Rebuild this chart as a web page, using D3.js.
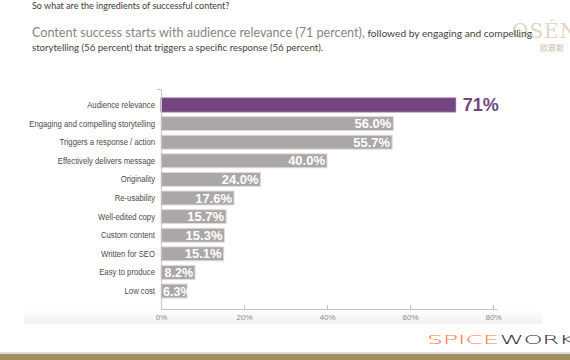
<!DOCTYPE html>
<html>
<head>
<meta charset="utf-8">
<script src="https://cdn.jsdelivr.net/npm/d3@7/dist/d3.min.js"></script>
<style>
  html, body { margin: 0; padding: 0; background: #ffffff; }
  svg { display: block; }
</style>
</head>
<body>
<svg id="chart" width="570" height="360"></svg>
<script>
// ---- data ----
const categories = [
  "Audience relevance",
  "Engaging and compelling storytelling",
  "Triggers a response / action",
  "Effectively delivers message",
  "Originality",
  "Re-usability",
  "Well-edited copy",
  "Custom content",
  "Written for SEO",
  "Easy to produce",
  "Low cost"
];
const values = [71, 56.0, 55.7, 40.0, 24.0, 17.6, 15.7, 15.3, 15.1, 8.2, 6.3];
const valueLabels = ["71%", "56.0%", "55.7%", "40.0%", "24.0%", "17.6%", "15.7%", "15.3%", "15.1%", "8.2%", "6.3%"];
const tickValues = [0, 20, 40, 60, 80];
const kicker = "So what are the ingredients of successful content?";
const headlineBig = "Content success starts with audience relevance (71 percent),";
const headlineSmall1 = " followed by engaging and compelling";
const headlineSmall2 = "storytelling (56 percent) that triggers a specific response (56 percent).";

const svg = d3.select("#chart");

// ---- background pieces ----
const defs = svg.append("defs");
const grad = defs.append("linearGradient").attr("id", "band").attr("x1", 0).attr("x2", 0).attr("y1", 0).attr("y2", 1);
grad.append("stop").attr("offset", "0%").attr("stop-color", "#ffffff");
grad.append("stop").attr("offset", "100%").attr("stop-color", "#f1f1f1");
svg.append("rect").attr("x", 24).attr("y", 310).attr("width", 518).attr("height", 14).attr("fill", "url(#band)");

svg.append("rect").attr("x", 0).attr("y", 352).attr("width", 570).attr("height", 2).attr("fill", "#dcdcdc");
svg.append("rect").attr("x", 0).attr("y", 354).attr("width", 570).attr("height", 6).attr("fill", "#a08e5c");

// ---- header texts ----
svg.append("text").attr("x", 32).attr("y", 9)
  .attr("font-family", "Lato, 'Open Sans', sans-serif").attr("font-size", 9)
  .attr("fill", "#3a3a3a").text(kicker);

// OSEN logo (behind the headline, as in the reference)
svg.append("text").attr("x", 512).attr("y", 38)
  .attr("font-family", "'DejaVu Serif', serif").attr("font-size", 20)
  .attr("fill", "#e2d6c3").attr("letter-spacing", 1).text("OSÉN");
svg.append("text").attr("x", 540).attr("y", 51)
  .attr("font-family", "'Noto Sans CJK SC', sans-serif").attr("font-size", 8)
  .attr("fill", "#cbbba0").text("欧赛斯");

const h1 = svg.append("text").attr("x", 32).attr("y", 37)
  .attr("font-family", "Lato, 'Open Sans', sans-serif").attr("fill", "#858585");
h1.append("tspan").attr("font-size", 12.6).text(headlineBig);
h1.append("tspan").attr("font-size", 10.2).attr("fill", "#3f3f3f").text(headlineSmall1);

svg.append("text").attr("x", 32).attr("y", 51)
  .attr("font-family", "Lato, 'Open Sans', sans-serif").attr("font-size", 9.6)
  .attr("fill", "#3f3f3f").text(headlineSmall2);

// ---- scales ----
const x = d3.scaleLinear().domain([0, 80]).range([161, 493]);
const y = d3.scaleBand().domain(categories).range([98, 298]).paddingInner(0.25).paddingOuter(0);

// ---- bars ----
const bars = svg.append("g");
bars.selectAll("rect").data(values).join("rect")
  .attr("x", x(0))
  .attr("y", (d, i) => y(categories[i]))
  .attr("width", d => x(d) - x(0))
  .attr("height", y.bandwidth())
  .attr("fill", (d, i) => i === 0 ? "#744581" : "#aca7a7")
  .attr("stroke", (d, i) => i === 0 ? "#8a6394" : "#dedcdc")
  .attr("stroke-width", 1);

// value labels
const vl = svg.append("g").attr("font-family", "'Liberation Sans', Arial, sans-serif").attr("font-weight", "bold");
values.forEach((v, i) => {
  const cy = y(categories[i]) + y.bandwidth() / 2;
  if (i === 0) {
    vl.append("text").attr("x", x(v) + 7).attr("y", cy + 6.5)
      .attr("font-size", 18).attr("fill", "#744581").text(valueLabels[i]);
  } else {
    const small = v < 10;
    const t = vl.append("text").attr("y", cy + 4.6)
      .attr("font-size", small ? 12.5 : 13).attr("fill", "#ffffff")
      .attr("text-anchor", "end").text(valueLabels[i]);
    const w = t.node().getComputedTextLength();
    const xe = Math.max(x(v) - 2, x(0) + 2 + w);
    t.attr("x", xe);
  }
});

// ---- axes ----
const xAxis = d3.axisBottom(x).tickValues(tickValues).tickFormat(d => d + "%")
  .tickSize(-4).tickSizeOuter(0).tickPadding(5);
const gx = svg.append("g").attr("transform", "translate(0,309)").call(xAxis);
gx.select(".domain").remove();
gx.selectAll(".tick line").attr("stroke", "#c4c4c4").filter(d => d === 0).remove();
gx.selectAll(".tick text").attr("font-family", "'Liberation Sans', Arial, sans-serif")
  .attr("font-size", 8).attr("fill", "#8a8a8a");
gx.append("line").attr("x1", x(0)).attr("x2", 497).attr("y1", 0.5).attr("y2", 0.5)
  .attr("stroke", "#c4c4c4");

const yAxis = d3.axisLeft(y).tickSize(0).tickPadding(6);
const gy = svg.append("g").attr("transform", `translate(${x(0)},0)`).call(yAxis);
gy.select(".domain").remove();
gy.selectAll(".tick text").attr("font-family", "'Liberation Sans', Arial, sans-serif")
  .attr("font-size", 9.2).attr("fill", "#4a4a4a")
  .each(function () {
    const w = this.getComputedTextLength();
    d3.select(this).attr("textLength", w * 0.84).attr("lengthAdjust", "spacingAndGlyphs");
  });
gy.append("path").attr("d", "M-4,89.5H0.5V309.5").attr("fill", "none").attr("stroke", "#c4c4c4");

// ---- SPICEWORKS logo ----
svg.append("text").attr("x", 427).attr("y", 344)
  .attr("font-family", "'DejaVu Sans', sans-serif").attr("font-size", 12.5)
  .attr("font-weight", 200).attr("fill", "#f47c3c")
  .attr("textLength", 72).attr("lengthAdjust", "spacingAndGlyphs").text("SPICE");
svg.append("text").attr("x", 500).attr("y", 344)
  .attr("font-family", "'DejaVu Sans', sans-serif").attr("font-size", 12.5)
  .attr("font-weight", 200).attr("fill", "#1e1e1e")
  .attr("textLength", 90).attr("lengthAdjust", "spacingAndGlyphs").text("WORKS");
</script>
</body>
</html>
